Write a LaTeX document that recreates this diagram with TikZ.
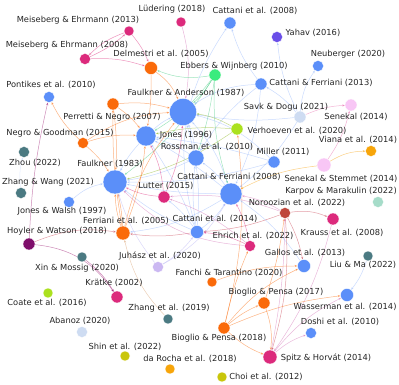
\documentclass[tikz,border=0pt]{standalone}
\usepackage{fontspec}
\setmainfont{DejaVu Sans}
\usetikzlibrary{arrows.meta}
\definecolor{cblue}{HTML}{5B8FF9}
\definecolor{corange}{HTML}{FA6A0A}
\definecolor{cmag}{HTML}{DC2A7C}
\definecolor{cteal}{HTML}{4B7A82}
\definecolor{cyg}{HTML}{ABE11F}
\definecolor{colive}{HTML}{C9C60B}
\definecolor{cpink}{HTML}{F8C6F5}
\definecolor{clblue}{HTML}{CEDCF2}
\definecolor{clav}{HTML}{CBB8F2}
\definecolor{cdred}{HTML}{BF473C}
\definecolor{cpurple}{HTML}{6A4EE8}
\definecolor{cgreen}{HTML}{3BEC7E}
\definecolor{camber}{HTML}{F7A50A}
\definecolor{clteal}{HTML}{A6DCC9}
\definecolor{cdpurp}{HTML}{7F0E6B}
\definecolor{ctan}{HTML}{D8A070}
\definecolor{ctxt}{HTML}{242424}
\pgfdeclarelayer{bg}
\pgfsetlayers{bg,main}
\newcommand{\gnode}[8]{%
  \node[dot, fill=#5, minimum size=#4*2pt] (#1) at (#2,#3) {};
  \node[lbl] (#1-l) at (#6,#7) {#8};}
\begin{document}
\begin{tikzpicture}[x=1pt,y=-1pt,
  dot/.style={circle, inner sep=0pt, draw=white, line width=0.3pt},
  lbl/.style={font=\fontsize{8.3}{9}\selectfont, text=ctxt, inner sep=0pt},
  ebase/.style={-{Stealth[length=2.6pt,width=2.2pt]}, line width=0.5pt, opacity=0.5},
  eb/.style={ebase, draw=cblue, fill=cblue},
  eo/.style={ebase, draw=corange},
  em/.style={ebase, draw=cmag},
  et/.style={ebase, draw=cteal},
  ey/.style={ebase, draw=cyg!80!black},
  eg/.style={ebase, draw=cgreen!70!cteal},
  ep/.style={ebase, draw=cmag!60!cpink},
  el/.style={ebase, draw=cblue!65},
  ev/.style={ebase, draw=clav!80!cblue},
  er/.style={ebase, draw=cdred!70!cmag},
  ed/.style={ebase, draw=cdpurp!70!cmag},
  en/.style={ebase, draw=ctan},
  ea/.style={ebase, draw=camber!90!corange},
  ew/.style={ebase, draw=cmag!50!clav}
]
\useasboundingbox (0,0) rectangle (399,385);
% nodes
\gnode{Lud}{181}{22}{5}{cmag}{172}{9}{Lüdering (2018)}
\gnode{Cat08}{230}{23}{6}{cblue}{255}{11}{Cattani et al. (2008)}
\gnode{Mei13}{129}{31}{5}{cmag}{78}{20}{Meiseberg \& Ehrmann (2013)}
\gnode{Yah}{277}{37}{5.5}{cpurple}{313}{33}{Yahav (2016)}
\gnode{Mei08}{85}{59}{5.5}{cmag}{67}{45}{Meiseberg \& Ehrmann (2008)}
\gnode{Del}{151}{68}{6.5}{corange}{161}{54}{Delmestri et al. (2005)}
\gnode{Neu}{318}{66}{5.5}{cblue}{348}{54}{Neuberger (2020)}
\gnode{Ebb}{215}{75}{6}{cgreen}{234}{66}{Ebbers \& Wijnberg (2010)}
\gnode{CF13}{261}{84}{6}{cblue}{321}{83}{Cattani \& Ferriani (2013)}
\gnode{Pon}{49}{97}{5.5}{cblue}{51}{85}{Pontikes et al. (2010)}
\gnode{FA}{183}{112}{13.5}{cblue}{186}{93}{Faulkner \& Anderson (1987)}
\gnode{Savk}{300}{117}{6}{clblue}{286}{107}{Savk \& Dogu (2021)}
\gnode{Sen}{351}{105}{6}{cpink}{356}{117}{Senekal (2014)}
\gnode{Per}{113}{104}{6}{corange}{112}{117}{Perretti \& Negro (2007)}
\gnode{Jon}{146}{136}{10}{cblue}{186}{135}{Jones (1996)}
\gnode{Ver}{237}{129}{6}{cyg}{297}{131}{Verhoeven et al. (2020)}
\gnode{NG}{83}{143}{5.5}{corange}{60}{133}{Negro \& Goodman (2015)}
\gnode{Ros}{196}{158}{8}{cblue}{207}{147}{Rossman et al. (2010)}
\gnode{Mil}{274}{162}{6}{cblue}{283}{152}{Miller (2011)}
\gnode{Via}{371}{151}{5.5}{camber}{358}{140}{Viana et al. (2014)}
\gnode{Zhou}{24}{152}{5.5}{cteal}{35}{163}{Zhou (2022)}
\gnode{SS}{324}{165}{7}{cpink}{341}{179}{Senekal \& Stemmet (2014)}
\gnode{F83}{115}{182}{12}{cblue}{110}{164}{Faulkner (1983)}
\gnode{ZW}{21}{193}{5.5}{cteal}{48}{182}{Zhang \& Wang (2021)}
\gnode{Lut}{164}{197}{6}{cmag}{166}{186}{Lutter (2015)}
\gnode{CF08}{231}{194}{11}{cblue}{229}{177}{Cattani \& Ferriani (2008)}
\gnode{Kar}{378}{202}{5.5}{clteal}{341}{191}{Karpov \& Marakulin (2022)}
\gnode{Nor}{285}{213}{5.5}{cdred}{297}{203}{Noroozian et al. (2022)}
\gnode{JW}{69}{202}{5.5}{cblue}{62}{211}{Jones \& Walsh (1997)}
\gnode{Fer}{123}{233}{7}{corange}{126}{221}{Ferriani et al. (2005)}
\gnode{Cat14}{197}{232}{6.5}{cblue}{215}{219}{Cattani et al. (2014)}
\gnode{Kra}{333}{219}{6}{cmag}{342}{233}{Krauss et al. (2008)}
\gnode{Hoy}{29}{244}{6}{cdpurp}{57}{231}{Hoyler \& Watson (2018)}
\gnode{Ehr}{250}{246}{5.5}{cmag}{253}{236}{Ehrich et al. (2022)}
\gnode{Juh}{158}{267}{5.5}{clav}{160}{256}{Juhász et al. (2020)}
\gnode{Gal}{304}{266}{6.5}{cblue}{305}{253}{Gallos et al. (2013)}
\gnode{Xin}{82}{257}{5}{cteal}{77}{268}{Xin \& Mossig (2020)}
\gnode{Liu}{368}{256}{5}{cteal}{363}{265}{Liu \& Ma (2022)}
\gnode{Fan}{212}{282}{5}{corange}{229}{273}{Fanchi \& Tarantino (2020)}
\gnode{Krt}{117}{297}{6}{cmag}{114}{283}{Krätke (2002)}
\gnode{Bio17}{264}{303}{6}{corange}{276}{292}{Bioglio \& Pensa (2017)}
\gnode{Was}{347}{295}{6.5}{cblue}{345}{307}{Wasserman et al. (2014)}
\gnode{Coa}{48}{293}{5}{cyg}{47}{303}{Coate et al. (2016)}
\gnode{Zh19}{168}{319}{5}{cteal}{169}{308}{Zhang et al. (2019)}
\gnode{Dos}{311}{333}{5.5}{cblue}{340}{322}{Doshi et al. (2010)}
\gnode{Aba}{82}{332}{5.5}{clblue}{80}{321}{Abanoz (2020)}
\gnode{Bio18}{224}{328}{6}{corange}{219}{338}{Bioglio \& Pensa (2018)}
\gnode{Spi}{270}{357}{7}{cmag}{326}{358}{Spitz \& Horvát (2014)}
\gnode{Shi}{125}{356}{5}{colive}{125}{347}{Shin et al. (2022)}
\gnode{Roc}{170}{369}{5}{camber}{190}{359}{da Rocha et al. (2018)}
\gnode{Cho}{222}{377}{5}{colive}{266}{377}{Choi et al. (2012)}
% edges
\begin{pgfonlayer}{bg}
\draw[em] (Mei13) to[bend right=12] (Mei08);
\draw[em] (Mei08) to[bend right=8] (Mei13);
\draw[em] (Mei13) to[bend left=8] (Del);
\draw[em] (Mei08) to[bend left=10] (Del);
\draw[ew] (Lud) to[bend left=12] (FA);
\draw[eo] (Del) to[bend left=15] (FA);
\draw[eo] (Del) to[bend left=5] (Jon);
\draw[eg] (Ebb) to[bend left=15] (Del);
\draw[eg] (Ebb) to[bend left=8] (FA);
\draw[eg] (Ebb) to[bend left=10] (Jon);
\draw[eg] (Ebb) to[bend left=5] (Ros);
\draw[eg] (Ebb) to[bend left=10] (F83);
\draw[eg] (Ebb) to[bend right=10] (CF08);
\draw[el] (CF13) to[bend left=10] (Cat08);
\draw[el] (Cat14) to[bend left=25] (Cat08);
\draw[el] (Savk) to[bend left=10] (Yah);
\draw[el] (Savk) to[bend left=15] (Neu);
\draw[el] (Savk) to[bend right=10] (CF13);
\draw[el] (Savk) to[bend left=8] (FA);
\draw[el] (Savk) to[bend left=10] (CF08);
\draw[el] (CF13) to[bend right=15] (FA);
\draw[el] (CF13) to[bend left=10] (CF08);
\draw[el] (CF13) to[bend right=10] (Ros);
\draw[ep] (SS) to[bend right=10] (Sen);
\draw[ep] (Savk) to[bend left=10] (Sen);
\draw[ea] (SS) to[bend left=15] (Via);
\draw[ea] (SS) to[bend right=10] (CF08);
\draw[ey] (Ver) to[bend right=10] (FA);
\draw[ey] (Ver) to[bend right=8] (Jon);
\draw[ey] (Ver) to[bend left=10] (F83);
\draw[eo] (Bio18) to[bend right=10] (Ver);
\draw[eo] (NG) to[bend left=10] (Pon);
\draw[eo] (NG) to[bend left=10] (Jon);
\draw[eo] (NG) to[bend left=15] (FA);
\draw[eo] (NG) to[bend left=8] (F83);
\draw[eo] (Per) to[bend left=10] (FA);
\draw[eo] (Per) to[bend left=8] (Jon);
\draw[eo] (Per) to[bend left=5] (F83);
\draw[eo] (Fer) to[bend left=5] (Per);
\draw[el] (Jon) to[bend left=8] (FA);
\draw[el] (Jon) to[bend right=8] (F83);
\draw[el] (Ros) to[bend right=8] (FA);
\draw[el] (Ros) to[bend right=8] (Jon);
\draw[el] (Ros) to[bend left=8] (F83);
\draw[el] (Mil) to[bend right=15] (FA);
\draw[el] (Mil) to[bend left=8] (F83);
\draw[el] (Mil) to[bend right=5] (Jon);
\draw[el] (JW) to[bend left=15] (F83);
\draw[ed] (Hoy) to[bend left=5] (Pon);
\draw[el, opacity=0.25] (ZW) to[bend left=10] (Zhou);
\draw[em] (Lut) to[bend right=10] (FA);
\draw[em] (Lut) to[bend right=10] (Jon);
\draw[em] (Lut) to[bend left=10] (F83);
\draw[el] (Cat14) to[bend right=10] (FA);
\draw[el] (Cat14) to[bend right=5] (Jon);
\draw[el] (Cat14) to[bend left=8] (F83);
\draw[el] (Cat14) to[bend right=10] (CF08);
\draw[el] (Cat14) to[bend left=8] (Ros);
\draw[er] (Cat14) to[bend left=8] (Fer);
\draw[el] (Cat14) to[bend right=8] (Lut);
\draw[el] (CF08) to[bend right=12] (FA);
\draw[el] (CF08) to[bend right=5] (Jon);
\draw[el] (CF08) to[bend left=5] (F83);
\draw[el] (CF08) to[bend right=10] (Ros);
\draw[el] (CF08) to[bend left=12] (Fer);
\draw[eo] (Fer) to[bend left=8] (F83);
\draw[eo] (Fer) to[bend right=5] (F83);
\draw[eo] (Fer) to[bend left=12] (FA);
\draw[eo] (Fer) to[bend right=8] (Jon);
\draw[ew] (Nor) to[bend right=10] (CF08);
\draw[er] (Nor) to[bend left=15] (Kra);
\draw[ew] (Nor) to[bend right=12] (Lut);
\draw[er] (Nor) to[bend left=10] (Spi);
\draw[er] (Nor) to[bend left=8] (Gal);
\draw[er] (Nor) to[bend left=8] (Cat14);
\draw[ew] (Kra) to[bend left=10] (Spi);
\draw[eo] (Bio18) to[bend left=8] (Was);
\draw[ew] (Spi) to[bend left=12] (Was);
\draw[ew] (Spi) to[bend left=10] (Dos);
\draw[el] (Liu) to[bend left=10] (Was);
\draw[ed] (Hoy) to[bend left=25] (Krt);
\draw[ed] (Xin) to[bend left=10] (Krt);
\draw[er] (Hoy) to[bend left=15] (Fer);
\draw[en] (Zh19) to[bend left=15] (Fer);
\draw[ev] (Juh) to[bend right=10] (Cat14);
\draw[ev] (Juh) to[bend right=15] (CF08);
\draw[ev] (Juh) to[bend left=10] (F83);
\draw[em] (Ehr) to[bend right=10] (Cat14);
\draw[em] (Ehr) to[bend right=8] (CF08);
\draw[ew] (Ehr) to[bend right=10] (Lut);
\draw[ew] (Ehr) to[bend left=20] (F83);
\draw[eo] (Fan) to[bend left=10] (Gal);
\draw[eo] (Bio18) to[bend left=8] (Bio17);
\draw[eo] (Bio18) to[bend left=12] (Gal);
\draw[eo] (Bio18) to[bend right=10] (Spi);
\draw[eo] (Bio17) to[bend left=12] (Spi);
\draw[eo] (Bio18) to[bend left=5] (Ehr);
\draw[eo] (Bio17) to[bend right=5] (Nor);
\draw[ew] (Spi) to[bend right=5] (Nor);
\draw[el] (Gal) to[bend right=10] (CF08);
\end{pgfonlayer}
\end{tikzpicture}
\end{document}
